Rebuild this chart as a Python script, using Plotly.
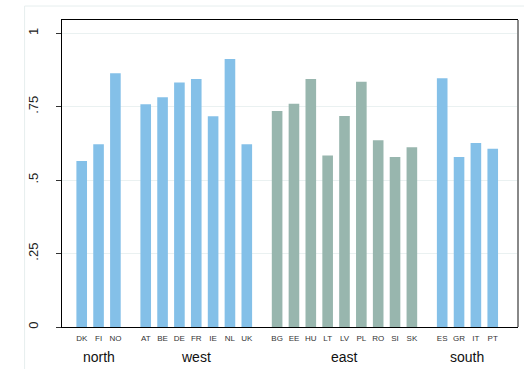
import plotly.graph_objects as go

groups = ["north", "west", "east", "south"]
countries = [
    ["DK", "FI", "NO"],
    ["AT", "BE", "DE", "FR", "IE", "NL", "UK"],
    ["BG", "EE", "HU", "LT", "LV", "PL", "RO", "SI", "SK"],
    ["ES", "GR", "IT", "PT"],
]
values = [
    [0.565, 0.622, 0.864],
    [0.758, 0.782, 0.832, 0.844, 0.717, 0.912, 0.622],
    [0.735, 0.760, 0.844, 0.584, 0.718, 0.835, 0.636, 0.579, 0.612],
    [0.847, 0.579, 0.626, 0.607],
]
group_colors = ["#84c0e8", "#84c0e8", "#98b6ae", "#84c0e8"]
ytick_vals = [0, 0.25, 0.5, 0.75, 1]
ytick_text = ["0", ".25", ".5", ".75", "1"]

GAP = 0.8  # extra spacing between groups (in bar units)

xs, ys, cols, labels = [], [], [], []
group_centers = []
i = 0
for g, (cs, vs) in enumerate(zip(countries, values)):
    gx = []
    for c, v in zip(cs, vs):
        x = i + GAP * g
        xs.append(x); ys.append(v); cols.append(group_colors[g]); labels.append(c)
        gx.append(x)
        i += 1
    group_centers.append(sum(gx) / len(gx))

fig = go.Figure()
fig.add_trace(go.Bar(x=xs, y=ys, marker=dict(color=cols, line=dict(width=0)),
                     width=0.63, showlegend=False))

FONT = "Liberation Sans, Arial, sans-serif"
fig.update_layout(
    width=524, height=369,
    margin=dict(l=61.5, r=5.5, t=20, b=42),
    paper_bgcolor="white", plot_bgcolor="white",
    font=dict(family=FONT, color="#222"),
    xaxis=dict(range=[-1.17, 25.9], tickvals=xs, ticktext=labels, ticks="",
               tickfont=dict(size=8, color="#333"), showgrid=False, zeroline=False,
               showline=True, linecolor="black", linewidth=1.3, mirror=True,
               ticklabelstandoff=3),
    yaxis=dict(range=[0, 1.045], tickvals=ytick_vals, ticktext=ytick_text,
               tickangle=-90, ticks="outside", ticklen=5, tickcolor="#333",
               tickfont=dict(size=13, color="#222"), showgrid=True,
               gridcolor="#eaf1f1", gridwidth=1.2, zeroline=False,
               showline=True, linecolor="black", linewidth=1.3,
               ticklabelstandoff=13),
)
for name, cx in zip(groups, group_centers):
    fig.add_annotation(x=cx, y=0, xref="x", yref="paper", text=name, showarrow=False,
                       yshift=-30, font=dict(size=14, color="#111"), yanchor="middle")

# right frame edge in gray
fig.add_shape(type="line", xref="paper", yref="paper", x0=1, x1=1, y0=0, y1=1,
              line=dict(color="#888888", width=2))
# faint outer region border
fig.add_shape(type="line", xref="paper", yref="paper", x0=-0.082, x1=1.02,
              y0=1.0456, y1=1.0456, line=dict(color="#e6eeee", width=1))
fig.add_shape(type="line", xref="paper", yref="paper", x0=-0.082, x1=-0.082,
              y0=-0.2, y1=1.0456, line=dict(color="#e6eeee", width=1))

fig.write_html("out.html")
